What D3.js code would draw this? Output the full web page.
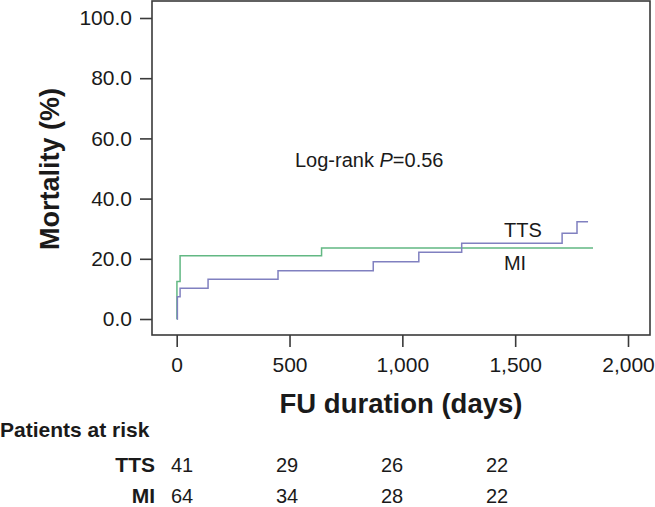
<!DOCTYPE html>
<html>
<head>
<meta charset="utf-8">
<script src="https://cdn.jsdelivr.net/npm/d3@7"></script>
<style>
  body { margin: 0; background: #fff; }
  text { font-family: Arial, "Liberation Sans", Helvetica, sans-serif; fill: #1a1a1a; }
</style>
</head>
<body>
<script>
var width = 655,
    height = 507;

// step points [days, mortality %]
var ttsSteps = [[0, 0], [3, 7.4], [15, 10.2], [139, 13.2], [449, 16.0], [871, 19.0], [1073, 22.2], [1263, 25.2], [1708, 28.5], [1774, 32.3]];
var ttsEnd = 1823;
var miSteps = [[0, 0], [1, 12.5], [15, 21.0], [642, 23.6]];
var miEnd = 1845;

var xTicks = [0, 500, 1000, 1500, 2000];
var yTicks = [0, 20, 40, 60, 80, 100];

var riskGroups = ["TTS", "MI"];
var riskTTS = [41, 29, 26, 22];
var riskMI = [64, 34, 28, 22];

var svg = d3.select("body").append("svg")
    .attr("width", width)
    .attr("height", height);

var x = d3.scaleLinear().domain([0, 2000]).range([176.7, 628]);
var y = d3.scaleLinear().domain([0, 100]).range([319, 18]);

// plot frame
svg.append("rect")
    .attr("x", 152).attr("y", 1)
    .attr("width", 650 - 152).attr("height", 335 - 1)
    .attr("fill", "none")
    .attr("stroke", "#3a3a3a")
    .attr("stroke-width", 1.6);

// axes
var xAxis = svg.append("g")
    .attr("transform", "translate(0,335)")
    .call(d3.axisBottom(x).tickValues(xTicks).tickSize(12).tickPadding(10)
        .tickFormat(d3.format(",")));
var yAxis = svg.append("g")
    .attr("transform", "translate(152,0)")
    .call(d3.axisLeft(y).tickValues(yTicks).tickSize(12).tickPadding(8)
        .tickFormat(d3.format(".1f")));

[xAxis, yAxis].forEach(function(a) {
    a.select(".domain").remove();
    a.selectAll(".tick line").attr("stroke", "#3a3a3a").attr("stroke-width", 1.6);
    a.selectAll(".tick text").style("font-size", "21px").attr("fill", "#1a1a1a");
});

// curves
var line = d3.line()
    .x(function(d) { return x(d[0]); })
    .y(function(d) { return y(d[1]); })
    .curve(d3.curveStepAfter);

function withEnd(steps, end) {
    var last = steps[steps.length - 1];
    return steps.concat([[end, last[1]]]);
}

svg.append("path")
    .datum(withEnd(miSteps, miEnd))
    .attr("d", line)
    .attr("fill", "none")
    .attr("stroke", "#62b883")
    .attr("stroke-width", 1.5);

svg.append("path")
    .datum(withEnd(ttsSteps, ttsEnd))
    .attr("d", line)
    .attr("fill", "none")
    .attr("stroke", "#8080c0")
    .attr("stroke-width", 1.5);

// curve labels
svg.append("text").attr("x", 523).attr("y", 230).attr("dy", "0.35em")
    .attr("text-anchor", "middle").style("font-size", "20px").text("TTS");
svg.append("text").attr("x", 515).attr("y", 263).attr("dy", "0.35em")
    .attr("text-anchor", "middle").style("font-size", "20px").text("MI");

// log-rank annotation
var lr = svg.append("text").attr("x", 295).attr("y", 160).attr("dy", "0.35em")
    .style("font-size", "20px");
lr.append("tspan").text("Log-rank ");
lr.append("tspan").style("font-style", "italic").text("P");
lr.append("tspan").text("=0.56");

// axis titles
svg.append("text")
    .attr("transform", "translate(50,169) rotate(-90)")
    .attr("text-anchor", "middle").attr("dy", "0.35em")
    .style("font-size", "27px").style("font-weight", "bold")
    .text("Mortality (%)");
svg.append("text")
    .attr("x", 401).attr("y", 403).attr("dy", "0.35em")
    .attr("text-anchor", "middle")
    .style("font-size", "27.5px").style("font-weight", "bold")
    .text("FU duration (days)");

// patients at risk table
svg.append("text").attr("x", 0).attr("y", 437)
    .style("font-size", "21px").style("font-weight", "bold")
    .text("Patients at risk");

var col = d3.scalePoint().domain(d3.range(riskTTS.length)).range([182, 497]);
var row = d3.scalePoint().domain(riskGroups).range([465, 496]);

[riskTTS, riskMI].forEach(function(vals, i) {
    var g = riskGroups[i];
    svg.append("text").attr("x", 155).attr("y", row(g)).attr("dy", "0.35em")
        .attr("text-anchor", "end")
        .style("font-size", "21px").style("font-weight", "bold")
        .text(g);
    svg.selectAll(null).data(vals).enter().append("text")
        .attr("x", function(d, j) { return col(j); })
        .attr("y", row(g)).attr("dy", "0.35em")
        .attr("text-anchor", "middle")
        .style("font-size", "20px")
        .text(function(d) { return d; });
});
</script>
</body>
</html>
